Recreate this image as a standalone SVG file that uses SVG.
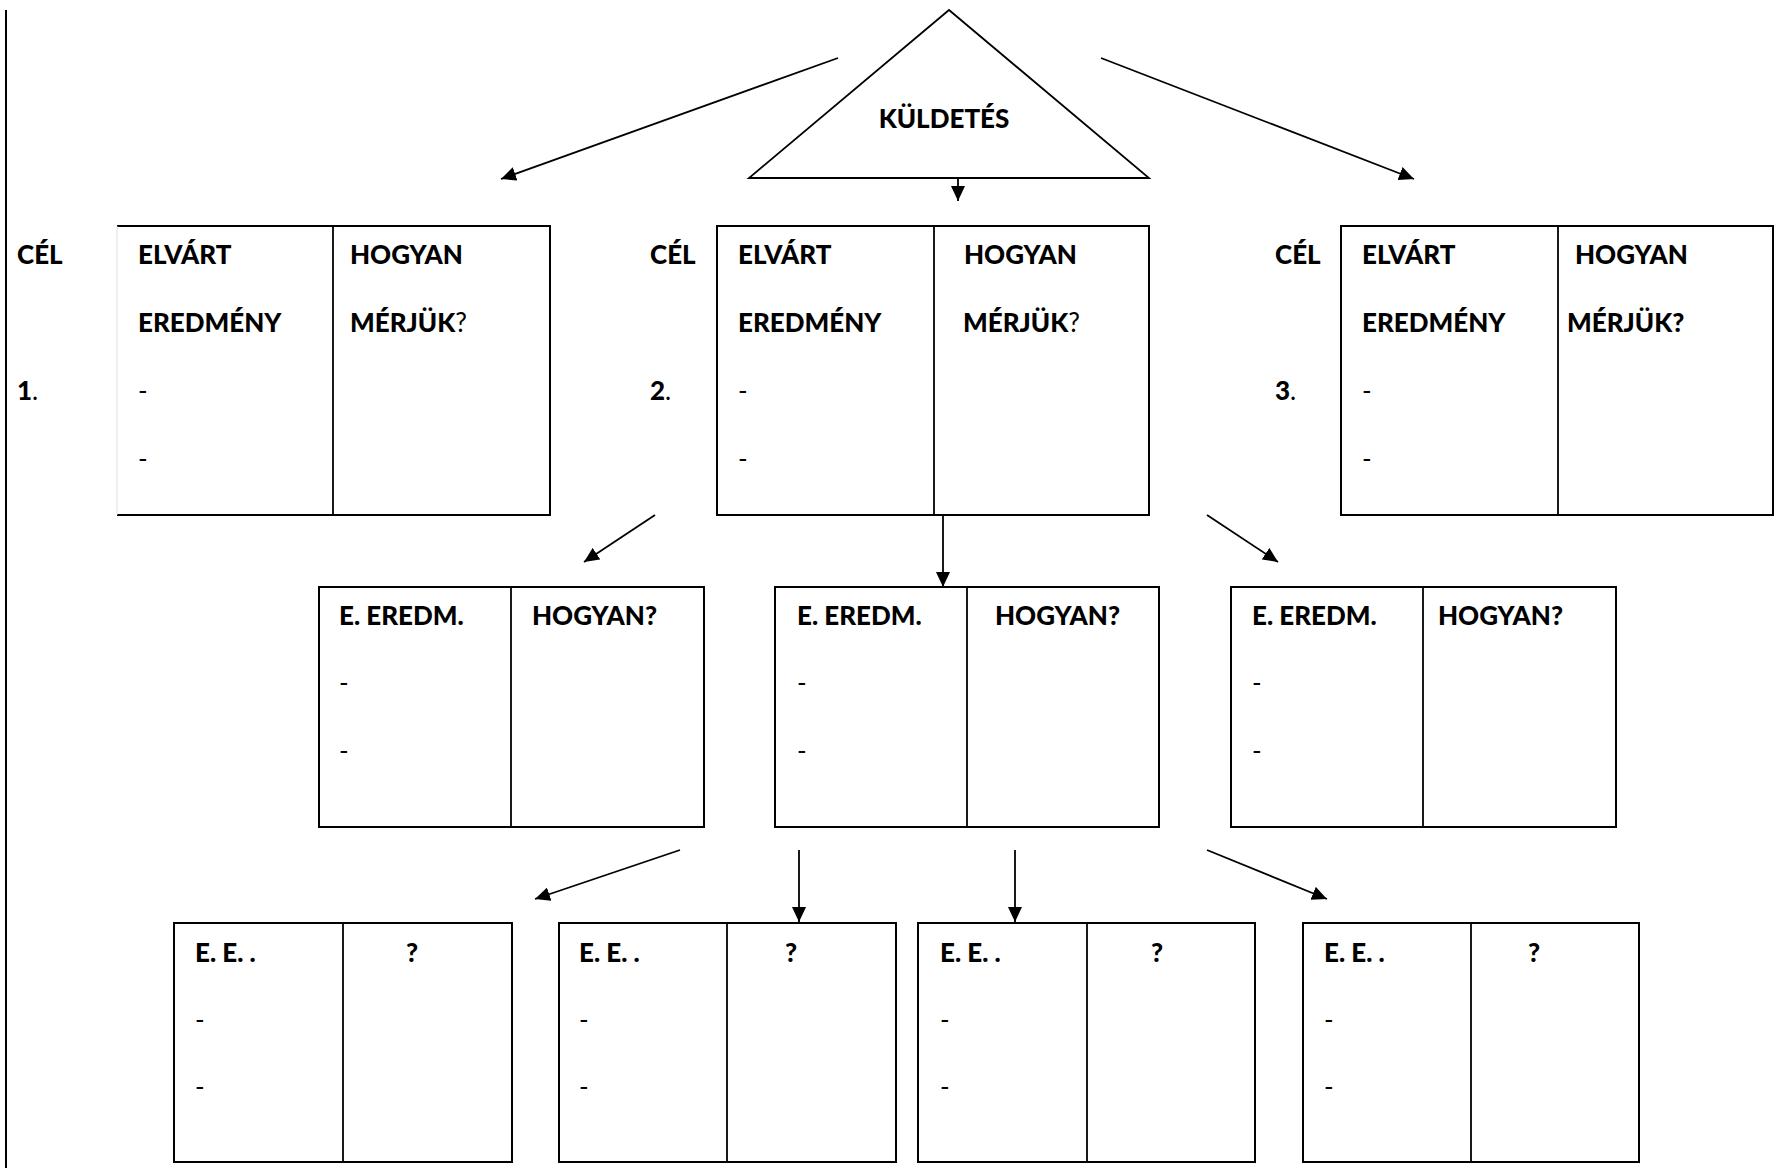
<svg xmlns="http://www.w3.org/2000/svg" width="1775" height="1168" viewBox="0 0 1775 1168">
<style>
  .box { fill: #fff; stroke: #000; stroke-width: 2; }
  .div { stroke: #000; stroke-width: 1.8; }
  .conn { stroke: #000; stroke-width: 1.8; fill: none; marker-end: url(#ah); }
  text { font-family: Lato, "Liberation Sans", sans-serif; font-size: 26px; fill: #000; }
  .b { font-weight: 900; }
  .r { font-weight: 400; }
  .c { text-anchor: middle; }
</style>
<defs>
  <marker id="ah" markerWidth="16" markerHeight="14" refX="15" refY="7" orient="auto" markerUnits="userSpaceOnUse">
    <path d="M0,0 L15,7 L0,14 Z" fill="#000"/>
  </marker>
</defs>
<rect width="1775" height="1168" fill="#fff"/>
<line x1="6" y1="10" x2="6" y2="1168" stroke="#000" stroke-width="2"/>

<g id="kuldetes">
  <polygon points="949,10 749,178 1149,178" fill="#fff" stroke="#000" stroke-width="1.8"/>
  <text class="b c" x="944" y="128">KÜLDETÉS</text>
</g>

<g id="cel1">
  <path d="M117,226 H550 V515 H117" fill="#fff" stroke="#000" stroke-width="2"/>
  <line x1="117" y1="226" x2="117" y2="515" stroke="#e0e0e0" stroke-width="1"/>
  <line class="div" x1="333" y1="226" x2="333" y2="515"/>
  <text class="b" x="17" y="264">CÉL</text>
  <text x="17" y="400"><tspan class="b">1</tspan><tspan class="r">.</tspan></text>
  <text class="b" x="138" y="264">ELVÁRT</text>
  <text class="b" x="138" y="332">EREDMÉNY</text>
  <text class="r" x="138" y="400">-</text>
  <text class="r" x="138" y="468">-</text>
  <text class="b" x="350" y="264">HOGYAN</text>
  <text x="350" y="332"><tspan class="b">MÉRJÜK</tspan><tspan class="r">?</tspan></text>
</g>

<g id="cel2">
  <rect class="box" x="717" y="226" width="432" height="289"/>
  <line class="div" x1="934" y1="226" x2="934" y2="515"/>
  <text class="b" x="650" y="264">CÉL</text>
  <text x="650" y="400"><tspan class="b">2</tspan><tspan class="r">.</tspan></text>
  <text class="b" x="738" y="264">ELVÁRT</text>
  <text class="b" x="738" y="332">EREDMÉNY</text>
  <text class="r" x="738" y="400">-</text>
  <text class="r" x="738" y="468">-</text>
  <text class="b" x="964" y="264">HOGYAN</text>
  <text x="963" y="332"><tspan class="b">MÉRJÜK</tspan><tspan class="r">?</tspan></text>
</g>

<g id="cel3">
  <rect class="box" x="1341" y="226" width="432" height="289"/>
  <line class="div" x1="1558" y1="226" x2="1558" y2="515"/>
  <text class="b" x="1275" y="264">CÉL</text>
  <text x="1275" y="400"><tspan class="b">3</tspan><tspan class="r">.</tspan></text>
  <text class="b" x="1362" y="264">ELVÁRT</text>
  <text class="b" x="1362" y="332">EREDMÉNY</text>
  <text class="r" x="1362" y="400">-</text>
  <text class="r" x="1362" y="468">-</text>
  <text class="b" x="1575" y="264">HOGYAN</text>
  <text class="b" x="1567" y="332">MÉRJÜK?</text>
</g>

<g id="eredm1">
  <rect class="box" x="319" y="587" width="385" height="240"/>
  <line class="div" x1="511" y1="587" x2="511" y2="827"/>
  <text class="b" x="339" y="625">E. EREDM.</text>
  <text class="b" x="532" y="625">HOGYAN?</text>
  <text class="r" x="339" y="692">-</text>
  <text class="r" x="339" y="760">-</text>
</g>

<g id="eredm2">
  <rect class="box" x="775" y="587" width="384" height="240"/>
  <line class="div" x1="967" y1="587" x2="967" y2="827"/>
  <text class="b" x="797" y="625">E. EREDM.</text>
  <text class="b" x="995" y="625">HOGYAN?</text>
  <text class="r" x="797" y="692">-</text>
  <text class="r" x="797" y="760">-</text>
</g>

<g id="eredm3">
  <rect class="box" x="1231" y="587" width="385" height="240"/>
  <line class="div" x1="1423" y1="587" x2="1423" y2="827"/>
  <text class="b" x="1252" y="625">E. EREDM.</text>
  <text class="b" x="1438" y="625">HOGYAN?</text>
  <text class="r" x="1252" y="692">-</text>
  <text class="r" x="1252" y="760">-</text>
</g>

<g id="ee1">
  <rect class="box" x="174" y="923" width="338" height="239"/>
  <line class="div" x1="343" y1="923" x2="343" y2="1162"/>
  <text class="b" x="195" y="962">E. E. .</text>
  <text class="b c" x="412" y="962">?</text>
  <text class="r" x="195" y="1029">-</text>
  <text class="r" x="195" y="1096">-</text>
</g>

<g id="ee2">
  <rect class="box" x="559" y="923" width="337" height="239"/>
  <line class="div" x1="727" y1="923" x2="727" y2="1162"/>
  <text class="b" x="579" y="962">E. E. .</text>
  <text class="b c" x="791" y="962">?</text>
  <text class="r" x="579" y="1029">-</text>
  <text class="r" x="579" y="1096">-</text>
</g>

<g id="ee3">
  <rect class="box" x="918" y="923" width="337" height="239"/>
  <line class="div" x1="1087" y1="923" x2="1087" y2="1162"/>
  <text class="b" x="940" y="962">E. E. .</text>
  <text class="b c" x="1157" y="962">?</text>
  <text class="r" x="940" y="1029">-</text>
  <text class="r" x="940" y="1096">-</text>
</g>

<g id="ee4">
  <rect class="box" x="1303" y="923" width="336" height="239"/>
  <line class="div" x1="1471" y1="923" x2="1471" y2="1162"/>
  <text class="b" x="1324" y="962">E. E. .</text>
  <text class="b c" x="1534" y="962">?</text>
  <text class="r" x="1324" y="1029">-</text>
  <text class="r" x="1324" y="1096">-</text>
</g>

<g id="connectors">
  <line class="conn" x1="838" y1="58" x2="501" y2="179"/>
  <line class="conn" x1="958" y1="178" x2="958" y2="201"/>
  <line class="conn" x1="1101" y1="58" x2="1414" y2="179"/>
  <line class="conn" x1="655" y1="515" x2="584" y2="562"/>
  <line class="conn" x1="943" y1="515" x2="943" y2="587"/>
  <line class="conn" x1="1207" y1="515" x2="1278" y2="562"/>
  <line class="conn" x1="680" y1="850" x2="535" y2="899"/>
  <line class="conn" x1="799" y1="850" x2="799" y2="922"/>
  <line class="conn" x1="1015" y1="850" x2="1015" y2="922"/>
  <line class="conn" x1="1207" y1="850" x2="1327" y2="899"/>
</g>
</svg>
